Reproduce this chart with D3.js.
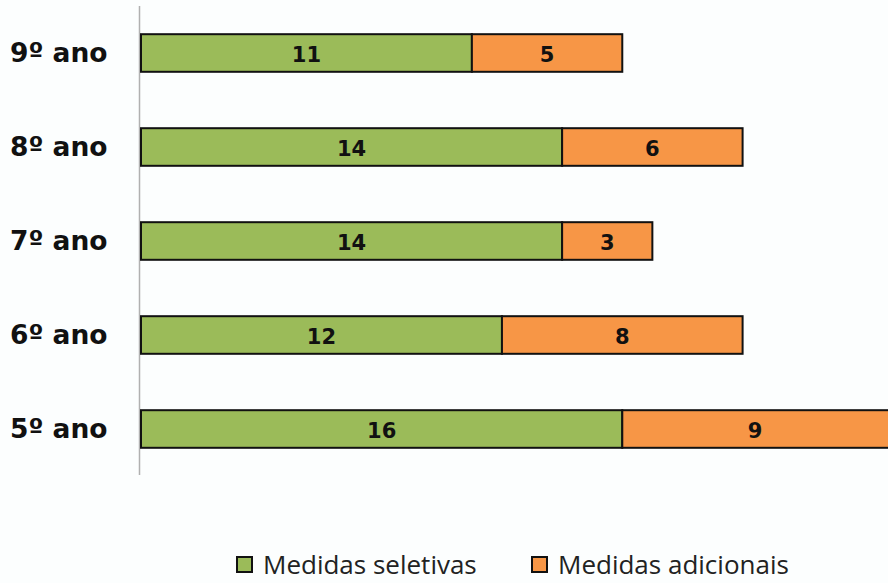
<!DOCTYPE html>
<html><head><meta charset="utf-8">
<script src="https://cdn.jsdelivr.net/npm/d3@7"></script>
<style>body{margin:0;background:#fcfefe;}svg{display:block;}</style>
</head><body>
<script>
const categories = ["9º ano","8º ano","7º ano","6º ano","5º ano"];
const seletivas = [11,14,14,12,16];
const adicionais = [5,6,3,8,9];
const seriesNames = ["Medidas seletivas","Medidas adicionais"];
const colors = ["#9BBB59","#F79646"];

const W=888,H=583;
const svg=d3.select("body").append("svg").attr("width",W).attr("height",H);
const x0=141;
const x=d3.scaleLinear().domain([0,25]).range([x0,x0+752]);
const y=d3.scaleBand().domain(categories).range([6,476]).paddingInner(0.6).paddingOuter(0.3);

const rows=categories.map((c,i)=>({cat:c,vals:[seletivas[i],adicionais[i]]}));
const segs=[];
rows.forEach(r=>{let s=0;r.vals.forEach((v,k)=>{segs.push({cat:r.cat,k,start:s,end:s+v,v});s+=v;});});

svg.append("line").attr("x1",139.5).attr("x2",139.5).attr("y1",6).attr("y2",475)
  .attr("stroke","#b0b0b0").attr("stroke-width",1.5);

svg.selectAll("rect.seg").data(segs).join("rect").attr("class","seg")
  .attr("x",d=>x(d.start)).attr("width",d=>x(d.end)-x(d.start))
  .attr("y",d=>y(d.cat)).attr("height",y.bandwidth())
  .attr("fill",d=>colors[d.k]).attr("stroke","#111").attr("stroke-width",2);

svg.selectAll("text.val").data(segs).join("text").attr("class","val")
  .attr("x",d=>(x(d.start)+Math.min(x(d.end),W))/2)
  .attr("y",d=>y(d.cat)+y.bandwidth()/2+1).attr("dy","0.36em")
  .attr("text-anchor","middle").attr("font-family","DejaVu Sans").attr("font-weight","bold")
  .attr("font-size",21).attr("fill","#111").text(d=>d.v);

svg.selectAll("text.cat").data(categories).join("text").attr("class","cat")
  .attr("x",10).attr("y",d=>y(d)+y.bandwidth()/2-1).attr("dy","0.36em")
  .attr("font-family","DejaVu Sans").attr("font-weight","bold").attr("font-size",26.5)
  .attr("fill","#111").text(d=>d);

const lx=[237,532];
const lg=svg.selectAll("g.leg").data(seriesNames).join("g").attr("class","leg")
  .attr("transform",(d,i)=>`translate(${lx[i]},557)`);
lg.append("rect").attr("width",15).attr("height",15).attr("fill",(d,i)=>colors[i])
  .attr("stroke","#111").attr("stroke-width",2);
lg.append("text").attr("x",26).attr("y",17).attr("font-family","Open Sans").attr("font-size",26)
  .attr("fill","#222").text(d=>d);
</script>
</body></html>
